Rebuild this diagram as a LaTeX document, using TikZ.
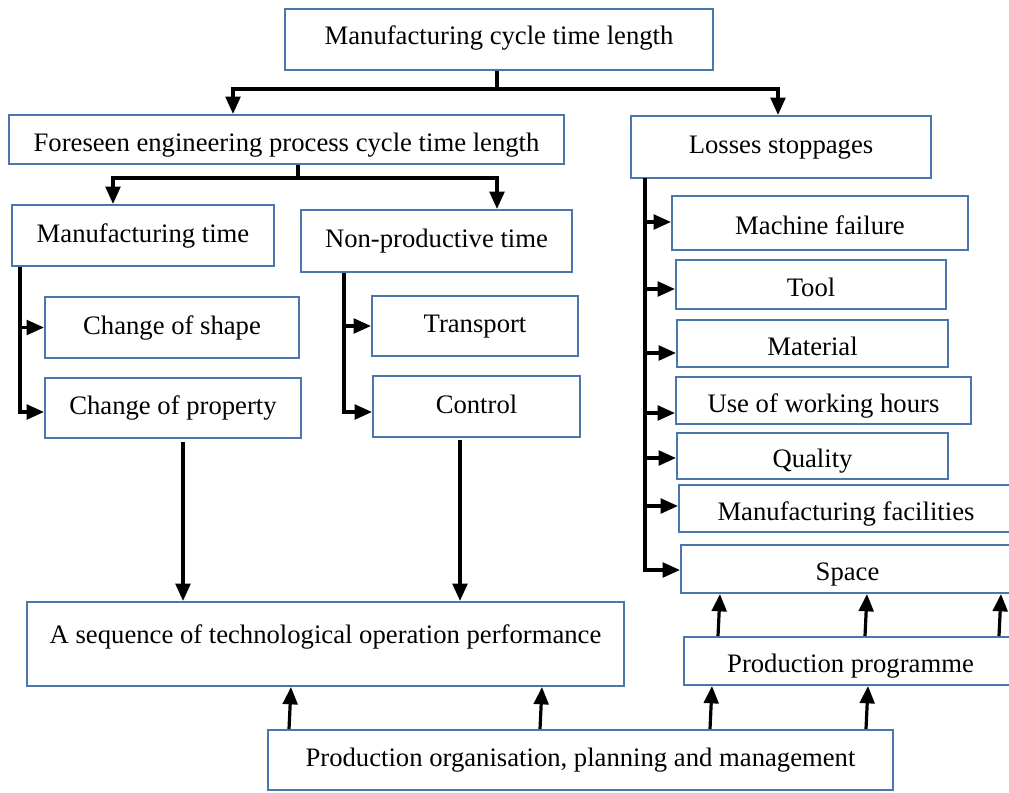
\documentclass[tikz,border=0pt]{standalone}
\usepackage{fontspec}
\setmainfont{Liberation Serif}
\usetikzlibrary{arrows.meta}
\definecolor{bxc}{RGB}{74,118,172}
\newcommand\bx[7][]{\node[box,#1,minimum width={(#5-#3)*0.75pt},minimum height={(#6-#4)*0.75pt}] (#2) at ({(#3+#5)/2},{(#4+#6)/2}) {#7};}
\begin{document}
\begin{tikzpicture}[x=0.75pt,y=-0.75pt,
  box/.style={draw=bxc,line width=1.5pt,fill=white,inner sep=0pt,
    font=\fontsize{20}{24}\selectfont,text height=12.5pt,text depth=2.2pt},
  low/.style={text height=20pt},
  conn/.style={line width=2.4pt,line join=miter},
  arr/.style={conn,-{Triangle[length=13pt,width=11pt]}}]
\useasboundingbox (0,0) rectangle (1009,792);
\clip (0,0) rectangle (1009,792);
% boxes
\bx[text height=10pt]{top}{285}{9}{713}{70}{Manufacturing cycle time length}
\bx[low]{fore}{9}{115}{564}{164}{Foreseen engineering process cycle time length}
\bx{loss}{631}{116}{931}{178}{Losses stoppages}
\bx{mt}{12}{205}{274}{266}{Manufacturing time}
\bx{np}{301}{210}{572}{272}{Non-productive time}
\bx{cs}{45}{297}{299}{358}{Change of shape}
\bx{cp}{45}{378}{301}{438}{Change of property}
\bx{tr}{372}{296}{578}{356}{Transport}
\bx{ct}{373}{376}{580}{437}{Control}
\bx[low]{mf}{672}{196}{968}{250}{Machine failure}
\bx[low]{tool}{676}{260}{946}{309}{Tool}
\bx[low]{mat}{677}{320}{948}{367}{Material}
\bx[low]{uwh}{676}{377}{971}{424}{Use of working hours}
\bx[low]{qual}{677}{433}{948}{479}{Quality}
\bx[low]{fac}{679}{485}{1013}{532}{Manufacturing facilities}
\bx[low]{space}{681}{545}{1014}{593}{Space}
\bx[text depth=14pt]{seq}{27}{602}{624}{686}{A sequence of technological operation performance}
\bx[low]{pp}{684}{637}{1017}{685}{Production programme}
\bx{po}{268}{730}{893}{790}{Production organisation, planning and management}
% junction coordinates
\coordinate (j1) at (497,89);
\coordinate (j2) at (298,178);
\coordinate (l1) at (20,412);
\coordinate (n1) at (344,412);
\coordinate (ltop) at (645,178);
\coordinate (b1) at (645,222);
\coordinate (b2) at (645,289);
\coordinate (b3) at (645,353);
\coordinate (b4) at (645,413);
\coordinate (b5) at (645,458);
\coordinate (b6) at (645,506);
\coordinate (b7) at (645,570);
% top level
\draw[conn] (j1 |- top.south) -- (j1);
\draw[arr] (j1) -| (233,0 |- fore.north);
\draw[arr] (j1) -| (778,0 |- loss.north);
% foreseen
\draw[conn] (j2 |- fore.south) -- (j2);
\draw[arr] (j2) -| (113,0 |- mt.north);
\draw[arr] (j2) -| (497,0 |- np.north);
% manufacturing time
\draw[arr] (l1 |- mt.south) |- (cp.west |- l1);
\draw[arr] (l1 |- cs.west) -- (cs.west);
% non-productive
\draw[arr] (n1 |- np.south) |- (ct.west |- n1);
\draw[arr] (n1 |- tr.west) -- (tr.west);
% losses
\draw[arr] (ltop) |- (space.west |- b7);
\draw[arr] (b1) -- (b1 -| mf.west);
\draw[arr] (b2) -- (b2 -| tool.west);
\draw[arr] (b3) -- (b3 -| mat.west);
\draw[arr] (b4) -- (b4 -| uwh.west);
\draw[arr] (b5) -- (b5 -| qual.west);
\draw[arr] (b6) -- (b6 -| fac.west);
% down to sequence
\draw[arr] (183,442) -- (183,0 |- seq.north);
\draw[arr] (460,440) -- (460,0 |- seq.north);
% up from production organisation
\draw[arr] (289,0 |- po.north) -- (291,0 |- seq.south);
\draw[arr] (540,0 |- po.north) -- (542,0 |- seq.south);
\draw[arr] (710,0 |- po.north) -- (712,0 |- pp.south);
\draw[arr] (866,0 |- po.north) -- (868,0 |- pp.south);
% up from production programme
\draw[arr] (718,0 |- pp.north) -- (720,0 |- space.south);
\draw[arr] (865,0 |- pp.north) -- (867,0 |- space.south);
\draw[arr] (999,0 |- pp.north) -- (1001,0 |- space.south);
\end{tikzpicture}
\end{document}
